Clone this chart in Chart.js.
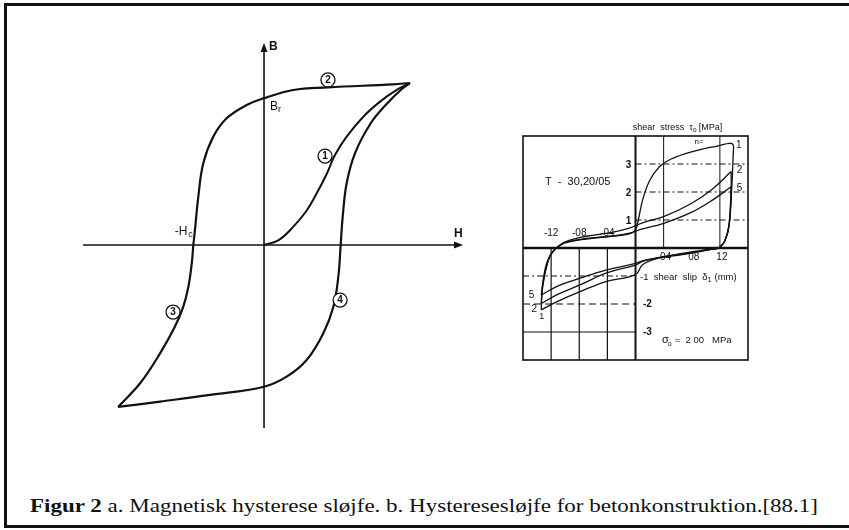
<!DOCTYPE html>
<html><head><meta charset="utf-8">
<script src="https://cdn.jsdelivr.net/npm/chart.js@4/dist/chart.umd.min.js"></script>
<style>
html,body{margin:0;padding:0;background:#fff;width:849px;height:530px;overflow:hidden;position:relative}
#frame{position:absolute;left:4px;top:3px;width:900px;height:525px;box-sizing:border-box;border-left:3px solid #111;border-top:3px solid #111;border-bottom:3px solid #111}
#cL{position:absolute;left:53px;top:13px}
#cR{position:absolute;left:493px;top:106px}
#cap{position:absolute;left:30px;top:496px;font-family:"Liberation Serif","Times New Roman",serif;font-size:19px;line-height:19px;white-space:nowrap;color:#111;transform-origin:0 0}
</style></head><body>
<div id="frame"></div>
<canvas id="cL" width="440" height="445"></canvas>
<canvas id="cR" width="285" height="284"></canvas>
<div id="cap"><b>Figur 2</b> a. Magnetisk hysterese sløjfe. b. Hysteresesløjfe for betonkonstruktion.[88.1]</div>
<script>
// ---------- a. magnetic hysteresis loop (H, B) ----------
const curve1 = [[0,0],[0.10,0.03],[0.201,0.113],[0.29,0.21],[0.361,0.319],[0.43,0.44],[0.486,0.556],[0.566,0.669],[0.68,0.792],[0.795,0.885],[0.909,0.957],[1,1]];
const branchDown = [[1,1],[0.884,0.992],[0.438,0.973],[0.2,0.957],[0,0.906],[-0.119,0.864],[-0.256,0.782],[-0.347,0.669],[-0.416,0.504],[-0.45,0.298],[-0.473,0.093],[-0.484,0],[-0.495,-0.113],[-0.518,-0.257],[-0.553,-0.381],[-0.61,-0.504],[-0.712,-0.669],[-0.849,-0.854],[-1,-1]];
const branchUp = [[-1,-1],[-0.712,-0.967],[-0.37,-0.926],[0,-0.875],[0.155,-0.813],[0.292,-0.71],[0.406,-0.545],[0.475,-0.381],[0.509,-0.196],[0.525,0],[0.539,0.175],[0.566,0.381],[0.623,0.566],[0.73,0.75],[0.84,0.87],[0.94,0.96],[1,1]];

// ---------- b. concrete shear loops (slip mm, stress MPa) ----------
const loop1Up = [[-1.13,0],[-1.0,0.2],[-0.7,0.34],[-0.35,0.42],[-0.1,0.5],[0,0.65],[0.04,1.0],[0.1,1.7],[0.2,2.4],[0.34,2.9],[0.5,3.17],[0.81,3.44],[1.19,3.66],[1.34,3.74],[1.39,3.68],[1.39,3.4],[1.37,2.2],[1.33,0.8],[1.27,0.25],[1.19,0]];
const loop1Down = [[1.19,0],[0.9,-0.1],[0.6,-0.22],[0.3,-0.38],[0.1,-0.6],[0,-0.95],[-0.42,-1.2],[-0.79,-1.56],[-1.1,-1.9],[-1.34,-2.21]];
const loop1Back = [[-1.34,-2.21],[-1.33,-1.6],[-1.29,-0.96],[-1.22,-0.3],[-1.13,0]];
const loop2Up = [[-1.13,0],[-1.0,0.22],[-0.7,0.42],[-0.35,0.55],[-0.1,0.7],[0.1,0.9],[0.4,1.12],[0.8,1.6],[1.1,2.12],[1.36,2.73]];
const loop2Unload = [[1.36,2.73],[1.36,2.0],[1.33,0.8],[1.27,0.25],[1.19,0]];
const loop2Down = [[1.19,0],[0.9,-0.12],[0.6,-0.24],[0.3,-0.35],[0.1,-0.48],[0,-0.61],[-0.42,-0.9],[-0.79,-1.32],[-1.1,-1.65],[-1.34,-1.98]];
const loop2Back = [[-1.34,-1.98],[-1.32,-1.3],[-1.28,-0.8],[-1.22,-0.3],[-1.13,0]];
const loop5Up = [[-1.13,0],[-1.0,0.18],[-0.7,0.32],[-0.35,0.42],[-0.1,0.52],[0.1,0.68],[0.4,0.88],[0.8,1.28],[1.1,1.72],[1.36,2.19]];
const loop5Unload = [[1.36,2.19],[1.35,1.5],[1.33,0.8],[1.27,0.25],[1.19,0]];
const loop5Down = [[1.19,0],[0.9,-0.14],[0.6,-0.26],[0.3,-0.36],[0.1,-0.46],[0,-0.55],[-0.42,-0.79],[-0.79,-1.08],[-1.1,-1.35],[-1.34,-1.68]];
const loop5Back = [[-1.34,-1.68],[-1.31,-1.1],[-1.27,-0.6],[-1.21,-0.25],[-1.13,0]];
const yTicksUp = [1,2,3];
const yTicksDown = [-1,-2,-3];
const xTickNeg = [-1.2,-0.8,-0.4];
const xTickPos = [0.4,0.8,1.2];
const xTickNegLabels = ['-12','-08','-04'];
const xTickPosLabels = ['04','08','12'];

const pts = a => a.map(p => ({x:p[0], y:p[1]}));
const ds = (a, w) => ({data:pts(a), showLine:true, borderColor:'#111', borderWidth:w, pointRadius:0, tension:0.4, fill:false});

function arrowHead(ctx, x, y, dir){
  ctx.beginPath();
  if(dir==='up'){ctx.moveTo(x,y);ctx.lineTo(x-3.5,y+9);ctx.lineTo(x+3.5,y+9);}
  else {ctx.moveTo(x,y);ctx.lineTo(x-9,y-3.5);ctx.lineTo(x-9,y+3.5);}
  ctx.closePath();ctx.fill();
}
function txt(ctx, s, x, y, font, align){
  ctx.font = font; ctx.textAlign = align||'left'; ctx.textBaseline='middle'; ctx.fillText(s, x, y);
}

const leftDeco = {
  id:'leftDeco',
  beforeDatasetsDraw(chart){
    const {ctx, chartArea:a, scales:{x,y}} = chart;
    const x0 = x.getPixelForValue(0), y0 = y.getPixelForValue(0);
    ctx.save(); ctx.strokeStyle='#111'; ctx.fillStyle='#111'; ctx.lineWidth=1.6;
    ctx.beginPath(); ctx.moveTo(a.left,y0); ctx.lineTo(a.right-5,y0); ctx.stroke();
    arrowHead(ctx, a.right, y0, 'right');
    ctx.beginPath(); ctx.moveTo(x0,a.bottom); ctx.lineTo(x0,a.top+5); ctx.stroke();
    arrowHead(ctx, x0, a.top, 'up');
    ctx.restore();
  },
  afterDatasetsDraw(chart){
    const {ctx, chartArea:a, scales:{x,y}} = chart;
    const P = (u,v) => [x.getPixelForValue(u), y.getPixelForValue(v)];
    const x0 = x.getPixelForValue(0), y0 = y.getPixelForValue(0);
    ctx.save(); ctx.fillStyle='#111'; ctx.strokeStyle='#111';
    const f = 'bold 12px "Liberation Sans", Arial, sans-serif';
    txt(ctx,'B', x0+5, a.top+4, f);
    txt(ctx,'H', a.right-9, y0-11, f);
    // -Hc
    let [hx,hy] = P(-0.484,0);
    txt(ctx,'-H', hx-6, hy-13, '12px "Liberation Sans", Arial, sans-serif','right');
    txt(ctx,'c', hx-5, hy-10, '9px "Liberation Sans", Arial, sans-serif');
    // Br
    let [bx,by] = P(0,0.906);
    txt(ctx,'B', x0+6, by+8, '12px "Liberation Sans", Arial, sans-serif');
    txt(ctx,'r', x0+14, by+11, '9px "Liberation Sans", Arial, sans-serif');
    ctx.lineWidth=1; ctx.beginPath(); ctx.moveTo(x0-3,by); ctx.lineTo(x0+3,by); ctx.stroke();
    ctx.beginPath(); ctx.moveTo(hx,hy-3); ctx.lineTo(hx,hy+3); ctx.stroke();
    // circled numbers
    const circ = [['2',0.438,1.019],['1',0.418,0.549],['3',-0.623,-0.414],['4',0.521,-0.34]];
    circ.forEach(c=>{
      const [cx,cy] = P(c[1],c[2]);
      ctx.beginPath(); ctx.arc(cx,cy,7,0,Math.PI*2); ctx.fillStyle='#fff'; ctx.fill();
      ctx.lineWidth=1.3; ctx.stroke(); ctx.fillStyle='#111';
      txt(ctx,c[0],cx,cy+0.5,'bold 10px "Liberation Sans", Arial, sans-serif','center');
    });
    ctx.restore();
  }
};

new Chart(document.getElementById('cL'), {
  type:'scatter',
  data:{datasets:[ds(curve1,2), ds(branchDown,2.2), ds(branchUp,2.2)]},
  options:{responsive:false, animation:false, layout:{padding:30},
    plugins:{legend:{display:false}, tooltip:{enabled:false}},
    scales:{x:{type:'linear',min:-1.24,max:1.363,display:false}, y:{type:'linear',min:-1.13,max:1.247,display:false}}},
  plugins:[leftDeco]
});

const rightDeco = {
  id:'rightDeco',
  beforeDatasetsDraw(chart){
    const {ctx, chartArea:a, scales:{x,y}} = chart;
    const X = v => x.getPixelForValue(v), Y = v => y.getPixelForValue(v);
    const x0 = X(0), y0 = Y(0);
    ctx.save(); ctx.strokeStyle='#111';
    ctx.lineWidth=1;
    ctx.setLineDash([6,3,2,3]);
    yTicksUp.forEach(t=>{ctx.beginPath(); ctx.moveTo(x0,Y(t)); ctx.lineTo(a.right,Y(t)); ctx.stroke();});
    ctx.setLineDash([]);
    [0.4,1.2].forEach(t=>{ctx.beginPath(); ctx.moveTo(X(t),a.top); ctx.lineTo(X(t),y0); ctx.stroke();});
    ctx.lineWidth=1.2;
    xTickNeg.forEach(t=>{ctx.beginPath(); ctx.moveTo(X(t),y0); ctx.lineTo(X(t),a.bottom); ctx.stroke();});
    const dashes = [[6,3,2,3],[7,4],[]];
    yTicksDown.forEach((t,i)=>{ctx.setLineDash(dashes[i]); ctx.beginPath(); ctx.moveTo(a.left,Y(t)); ctx.lineTo(x0,Y(t)); ctx.stroke();});
    ctx.setLineDash([]);
    ctx.lineWidth=1.6; ctx.strokeRect(a.left,a.top,a.width,a.height);
    ctx.lineWidth=2.6;
    ctx.beginPath(); ctx.moveTo(a.left,y0); ctx.lineTo(a.right,y0); ctx.stroke();
    ctx.lineWidth=2;
    ctx.beginPath(); ctx.moveTo(x0,a.top); ctx.lineTo(x0,a.bottom); ctx.stroke();
    ctx.restore();
  },
  afterDatasetsDraw(chart){
    const {ctx, scales:{x,y}} = chart;
    const X = v => x.getPixelForValue(v), Y = v => y.getPixelForValue(v);
    ctx.save(); ctx.fillStyle='#111';
    const F = s => s+'px "Liberation Sans", Arial, sans-serif';
    let tx = X(-0.04), ty = Y(4.32);
    ctx.font = F(9); ctx.textAlign='left'; ctx.textBaseline='middle';
    let s1 = 'shear  stress  τ'; ctx.fillText(s1,tx,ty); tx += ctx.measureText(s1).width;
    ctx.font = F(7); ctx.fillText('o',tx,ty+3); tx += ctx.measureText('o').width+2;
    ctx.font = F(9); ctx.fillText('[MPa]',tx,ty);
    txt(ctx,'n=',X(0.84),Y(3.78),F(8));
    txt(ctx,'1',X(1.43),Y(3.68),F(10));
    txt(ctx,'2',X(1.44),Y(2.79),F(10));
    txt(ctx,'5',X(1.44),Y(2.14),F(10));
    txt(ctx,'T  -  30,20/05',X(-1.287),Y(2.36),F(11));
    yTicksUp.forEach(t=>txt(ctx,String(t),X(-0.06),Y(t)+1,'bold '+F(10),'right'));
    xTickNeg.forEach((t,i)=>txt(ctx,xTickNegLabels[i],X(t),Y(0.54),F(10),'center'));
    xTickPos.forEach((t,i)=>txt(ctx,xTickPosLabels[i],X(t)+2,Y(-0.32),F(10),'center'));
    tx = X(0.064); ty = Y(-1.05);
    ctx.font = F(9.5); ctx.textAlign='left';
    let s2 = '-1  shear  slip  δ'; ctx.fillText(s2,tx,ty); tx += ctx.measureText(s2).width;
    ctx.font = F(7); ctx.fillText('1',tx,ty+3); tx += ctx.measureText('1').width+3;
    ctx.font = F(9.5); ctx.fillText('(mm)',tx,ty);
    txt(ctx,'-2',X(0.107),Y(-2),'bold '+F(10));
    txt(ctx,'-3',X(0.107),Y(-3),'bold '+F(10));
    tx = X(0.377); ty = Y(-3.29);
    ctx.font = F(11); ctx.textAlign='left';
    ctx.fillText('σ',tx,ty); tx += ctx.measureText('σ').width;
    ctx.font = F(7); ctx.fillText('o',tx-1,ty+4); tx += 6;
    ctx.font = F(9.5); ctx.fillText('=  2 00   MPa',tx,ty);
    txt(ctx,'5',X(-1.52),Y(-1.68),F(10));
    txt(ctx,'2',X(-1.48),Y(-2.18),F(10));
    txt(ctx,'1',X(-1.37),Y(-2.43),F(9));
    ctx.restore();
  }
};

new Chart(document.getElementById('cR'), {
  type:'scatter',
  data:{datasets:[loop1Up,loop1Down,loop1Back,loop2Up,loop2Unload,loop2Down,loop2Back,loop5Up,loop5Unload,loop5Down,loop5Back].map(a=>ds(a,1.3))},
  options:{responsive:false, animation:false, layout:{padding:30},
    plugins:{legend:{display:false}, tooltip:{enabled:false}},
    scales:{x:{type:'linear',min:-1.6,max:1.6,display:false}, y:{type:'linear',min:-4,max:4,display:false}}},
  plugins:[rightDeco]
});

const cap = document.getElementById('cap');
const w = cap.getBoundingClientRect().width;
cap.style.transform = 'scaleX(' + (788 / w) + ')';
</script>
</body></html>
